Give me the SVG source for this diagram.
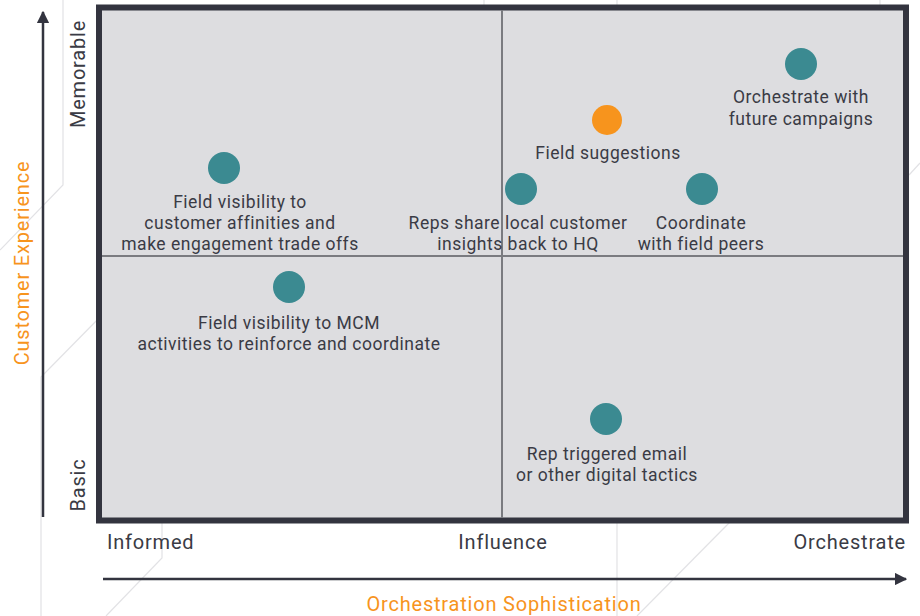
<svg xmlns="http://www.w3.org/2000/svg" width="920" height="616" viewBox="0 0 920 616">
<defs>
<style>
.bg{stroke:#e2e2e5;stroke-width:1.2;fill:none}
.lbl{font-family:Roboto,"Liberation Sans",sans-serif;font-size:17.5px;letter-spacing:0.5px;fill:#3a3b45;text-anchor:middle}
.ax{font-family:Roboto,"Liberation Sans",sans-serif;font-size:20px;letter-spacing:0.8px;fill:#3a3b45}
.or{font-family:Roboto,"Liberation Sans",sans-serif;font-size:20px;letter-spacing:0.8px;fill:#f7941d;text-anchor:middle}
.dot{fill:#3b8a91}
.axis{stroke:#33343f;stroke-width:2.5;fill:none}
</style>
<marker id="ah" viewBox="0 0 10 10" refX="9" refY="5" markerWidth="5" markerHeight="5" orient="auto-start-reverse">
<path d="M0,0 L10,5 L0,10 z" fill="#33343f"/>
</marker>
</defs>
<rect width="920" height="616" fill="#ffffff"/>
<g id="background">
<polyline class="bg" points="63,0 63,185 0,250"/>
<polyline class="bg" points="102,315 41,377 41,616"/>
<polyline class="bg" points="162,522 162,558 106,616"/>
<line class="bg" x1="484" y1="0" x2="484" y2="5"/>
<line class="bg" x1="617" y1="0" x2="617" y2="5"/>
<line class="bg" x1="880" y1="0" x2="880" y2="5"/>
<line class="bg" x1="617" y1="522" x2="617" y2="616"/>
<line class="bg" x1="730" y1="522" x2="637" y2="616"/>
<line class="bg" x1="909" y1="175" x2="920" y2="163"/>
</g>
<g id="frame">
<rect x="99" y="7.5" width="807" height="513" fill="#dddde0" stroke="#33343f" stroke-width="6"/>
<line x1="502" y1="10" x2="502" y2="518" stroke="#7a7b80" stroke-width="2"/>
<line x1="102" y1="256" x2="903" y2="256" stroke="#7a7b80" stroke-width="2"/>
</g>
<g id="connectors">
<line class="axis" x1="43" y1="517" x2="43" y2="12" marker-end="url(#ah)"/>
<line class="axis" x1="103" y1="579" x2="906" y2="579" marker-end="url(#ah)"/>
</g>
<g id="axis-labels">
<text class="ax" transform="translate(85,74) rotate(-90)" text-anchor="middle">Memorable</text>
<text class="ax" transform="translate(85,485) rotate(-90)" text-anchor="middle">Basic</text>
<text class="or" transform="translate(29,263) rotate(-90)">Customer Experience</text>
<text class="ax" x="107" y="549">Informed</text>
<text class="ax" x="503" y="549" text-anchor="middle">Influence</text>
<text class="ax" x="906" y="549" text-anchor="end">Orchestrate</text>
<text class="or" x="504" y="611">Orchestration Sophistication</text>
</g>
<g id="node-affinities">
<circle class="dot" cx="224" cy="168" r="16"/>
<text class="lbl" x="240" y="208">Field visibility to</text>
<text class="lbl" x="240" y="229">customer affinities and</text>
<text class="lbl" x="240" y="250">make engagement trade offs</text>
</g>
<g id="node-mcm">
<circle class="dot" cx="289" cy="287" r="16"/>
<text class="lbl" x="289" y="329">Field visibility to MCM</text>
<text class="lbl" x="289" y="350">activities to reinforce and coordinate</text>
</g>
<g id="node-suggestions">
<circle cx="607" cy="120" r="15" fill="#f7941d"/>
<text class="lbl" x="608" y="159">Field suggestions</text>
</g>
<g id="node-reps">
<circle class="dot" cx="521" cy="189" r="16"/>
<text class="lbl" x="518" y="229">Reps share local customer</text>
<text class="lbl" x="518" y="250">insights back to HQ</text>
</g>
<g id="node-coordinate">
<circle class="dot" cx="702" cy="189" r="16"/>
<text class="lbl" x="701" y="229">Coordinate</text>
<text class="lbl" x="701" y="250">with field peers</text>
</g>
<g id="node-orchestrate">
<circle class="dot" cx="801" cy="64" r="16"/>
<text class="lbl" x="801" y="103">Orchestrate with</text>
<text class="lbl" x="801" y="125">future campaigns</text>
</g>
<g id="node-email">
<circle class="dot" cx="606" cy="419" r="16"/>
<text class="lbl" x="607" y="460">Rep triggered email</text>
<text class="lbl" x="607" y="481">or other digital tactics</text>
</g>
</svg>
